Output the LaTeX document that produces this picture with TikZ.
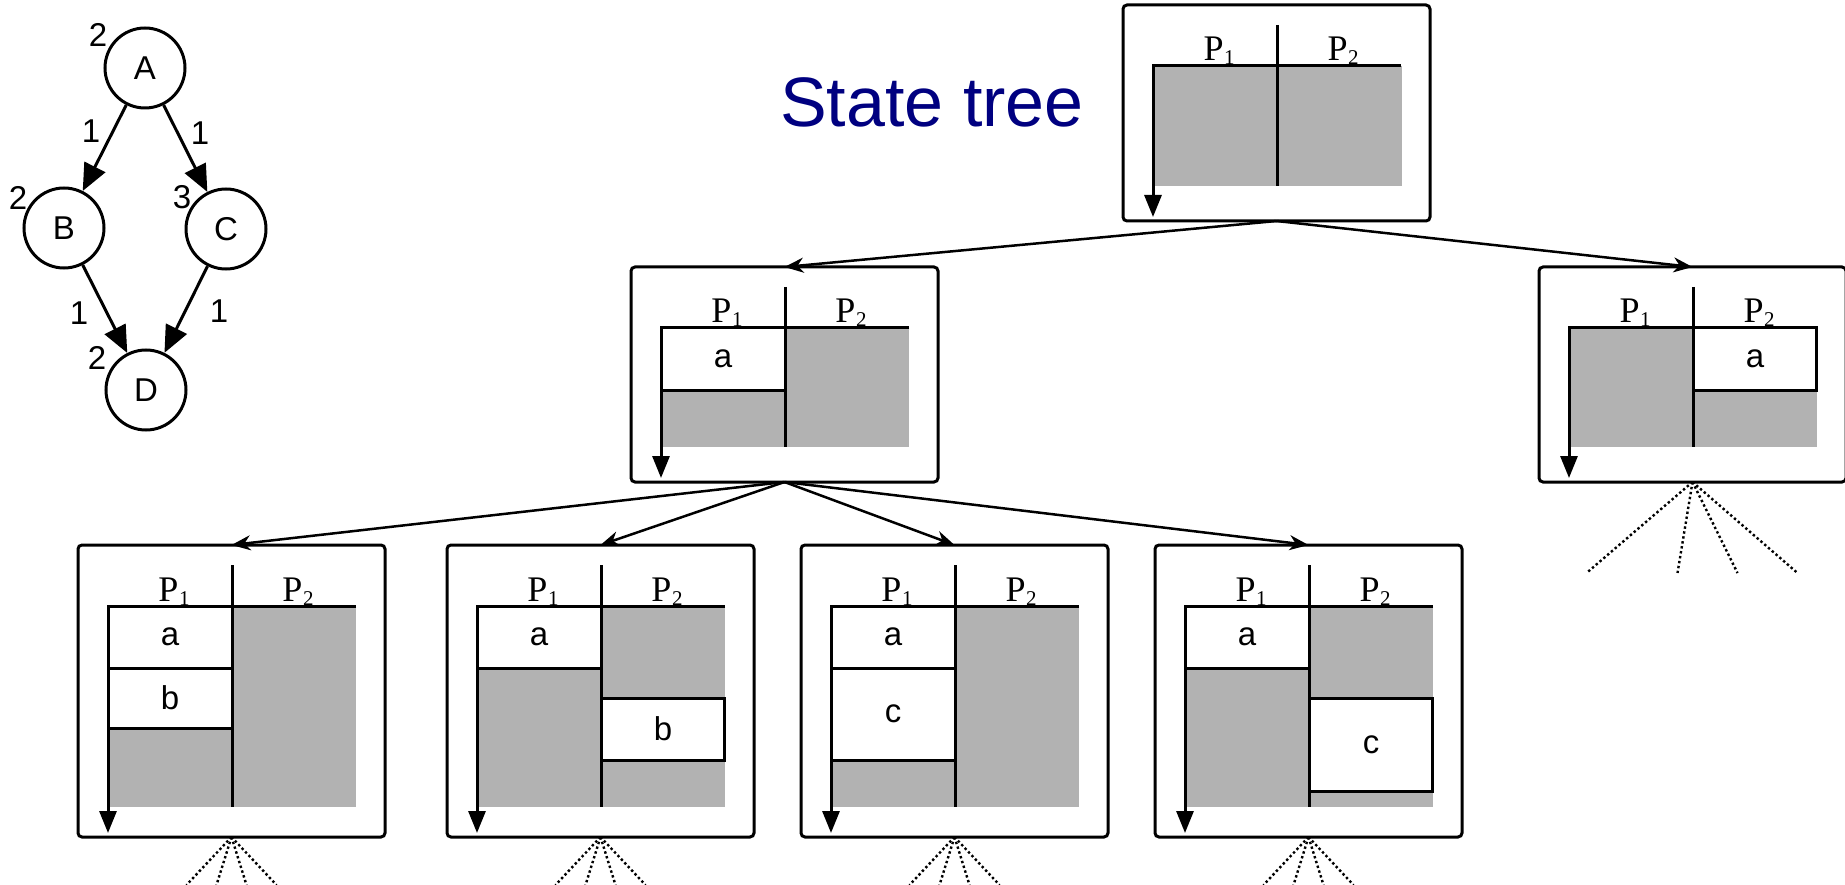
\documentclass[tikz,border=0pt]{standalone}
\usepackage{fontspec}
\setmainfont{Liberation Serif}
\newfontfamily\arialf{Liberation Sans}
\usetikzlibrary{arrows.meta,calc}
\definecolor{stgray}{RGB}{178,178,178}
\definecolor{navyblue}{RGB}{0,0,128}
\newcommand\Plab[1]{P\kern0.5pt\raisebox{-4pt}{\fontsize{21}{21}\selectfont #1}}
\tikzset{
  vtx/.style={circle, draw, line width=3pt, minimum size=80pt, inner sep=0pt, font=\arialf\fontsize{33}{33}\selectfont},
  wt/.style={inner sep=0pt, font=\arialf\fontsize{33}{33}\selectfont},
  dagedge/.style={line width=3pt, -{Triangle[length=27pt,width=23pt]}},
  stbox/.style={draw, line width=3pt, rounded corners=4pt, minimum width=307pt, minimum height=#1, anchor=north west, inner sep=0pt, outer sep=0pt},
  slot/.style={draw, fill=white, line width=3pt},
  inline/.style={line width=3pt},
  letter/.style={inner sep=0pt, font=\arialf\fontsize{33}{33}\selectfont},
  plabel/.style={inner sep=0pt, anchor=base, font=\fontsize{36}{36}\selectfont},
  treeedge/.style={line width=2.5pt, -{Stealth[length=19pt,width=15pt,inset=6pt]}},
  fan/.style={line width=2.4pt, dash pattern=on 2.4pt off 2.6pt},
}
% lines and labels of a state box: #1 prefix, #2 height, #3 gray bottom
\newcommand\stlines[3]{%
  \draw[inline] (154,20) -- (154,#3);
  \draw[inline, -{Triangle[length=22pt,width=17pt]}] (278,61) -- (30,61) -- (30,{#2-4});
  \node[plabel] (#1-p1) at (96,56) {\Plab{1}};
  \node[plabel] (#1-p2) at (220,56) {\Plab{2}};
}
\begin{document}
\begin{tikzpicture}[x=1pt,y=-1pt]
\useasboundingbox (0,0) rectangle (1845,885);

% ---------- task graph ----------
\node[vtx] (A) at (145,68) {A};
\node[vtx] (B) at (64,228) {B};
\node[vtx] (C) at (226,229) {C};
\node[vtx] (D) at (146,390) {D};
\node[wt] (wA) at (98,35) {2};
\node[wt] (wB) at (18,198) {2};
\node[wt] (wC) at (182,197) {3};
\node[wt] (wD) at (97,358) {2};
\draw[dagedge] (A) -- (B);
\draw[dagedge] (A) -- (C);
\draw[dagedge] (B) -- (D);
\draw[dagedge] (C) -- (D);
\node[wt] (eAB) at (91,131) {1};
\node[wt] (eAC) at (200,133) {1};
\node[wt] (eBD) at (79,313) {1};
\node[wt] (eCD) at (219,311) {1};

% ---------- title ----------
\node[inner sep=0pt, anchor=base, text=navyblue, font=\arialf\fontsize{70}{70}\selectfont] (title) at (932,127) {State tree};

% ---------- root ----------
\begin{scope}[shift={(1123,5)}]
  \node[stbox=216pt] (root) at (0,0) {};
  \fill[stgray] (30,61) rectangle (279,181);
  \stlines{root}{216}{181}
\end{scope}

% ---------- level 1 ----------
\begin{scope}[shift={(631,267)}]
  \node[stbox=215pt] (mid) at (0,0) {};
  \fill[stgray] (30,61) rectangle (278,180);
  \draw[slot] (30,61) rectangle (154,123);
  \node[letter] (mid-a) at (92,92) {a};
  \stlines{mid}{215}{180}
\end{scope}

\begin{scope}[shift={(1539,267)}]
  \node[stbox=215pt] (right) at (0,0) {};
  \fill[stgray] (30,61) rectangle (278,180);
  \draw[slot] (154,61) rectangle (277,123);
  \node[letter] (right-a) at (216,92) {a};
  \stlines{right}{215}{180}
\end{scope}

% ---------- level 2 ----------
\begin{scope}[shift={(78,545)}]
  \node[stbox=292pt] (b1) at (0,0) {};
  \fill[stgray] (30,61) rectangle (278,262);
  \draw[slot] (30,61) rectangle (154,123);
  \draw[slot] (30,123) rectangle (154,183);
  \node[letter] (b1-a) at (92,92) {a};
  \node[letter] (b1-b) at (92,153) {b};
  \stlines{b1}{292}{262}
\end{scope}

\begin{scope}[shift={(447,545)}]
  \node[stbox=292pt] (b2) at (0,0) {};
  \fill[stgray] (30,61) rectangle (278,262);
  \draw[slot] (30,61) rectangle (154,123);
  \draw[slot] (154,153) rectangle (277,215);
  \node[letter] (b2-a) at (92,92) {a};
  \node[letter] (b2-b) at (216,184) {b};
  \stlines{b2}{292}{262}
\end{scope}

\begin{scope}[shift={(801,545)}]
  \node[stbox=292pt] (b3) at (0,0) {};
  \fill[stgray] (30,61) rectangle (278,262);
  \draw[slot] (30,61) rectangle (154,123);
  \draw[slot] (30,123) rectangle (154,215);
  \node[letter] (b3-a) at (92,92) {a};
  \node[letter] (b3-c) at (92,169) {c};
  \stlines{b3}{292}{262}
\end{scope}

\begin{scope}[shift={(1155,545)}]
  \node[stbox=292pt] (b4) at (0,0) {};
  \fill[stgray] (30,61) rectangle (278,262);
  \draw[slot] (30,61) rectangle (154,123);
  \draw[slot] (154,153) rectangle (277,246);
  \node[letter] (b4-a) at (92,92) {a};
  \node[letter] (b4-c) at (216,200) {c};
  \stlines{b4}{292}{262}
\end{scope}

% ---------- tree connectors ----------
\draw[treeedge] (root.south) -- (mid.north);
\draw[treeedge] (root.south) -- (right.north);
\draw[treeedge] (mid.south) -- (b1.north);
\draw[treeedge] (mid.south) -- (b2.north);
\draw[treeedge] (mid.south) -- (b3.north);
\draw[treeedge] (mid.south) -- (b4.north);

% ---------- unexpanded subtrees ----------
\foreach \n in {b1,b2,b3,b4}{
  \foreach \dx [count=\i] in {-45,-15,15,45}{
    \coordinate (\n-e\i) at ($(\n.south)+(\dx,48)$);
    \draw[fan] (\n.south) -- (\n-e\i);
  }
}
\foreach \dx [count=\i] in {-106,-15,45,105}{
  \coordinate (right-e\i) at ($(right.south)+(\dx,91)$);
  \draw[fan] (right.south) -- (right-e\i);
}
\end{tikzpicture}
\end{document}
